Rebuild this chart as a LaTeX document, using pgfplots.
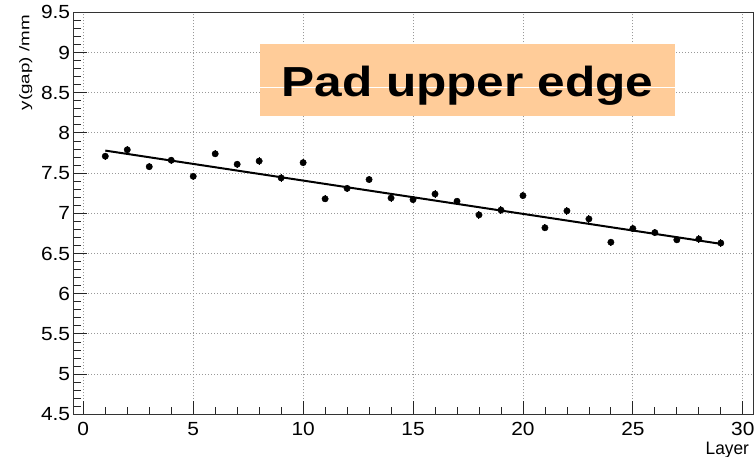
\documentclass[border=0pt]{standalone}
\usepackage{pgfplots}
\pgfplotsset{compat=1.18}
\usepackage{fontspec}
\setmainfont{Liberation Sans}
\newfontfamily\tickfont{Liberation Sans}[FakeStretch=1.1]
\newfontfamily\ylabfont{Liberation Sans}[FakeStretch=1.34]
\newfontfamily\xlabfont{Liberation Sans}[FakeStretch=0.96]
\newfontfamily\titfont{Liberation Sans}[FakeStretch=1.18]
\definecolor{titlebg}{RGB}{255,204,153}
\begin{document}
\begin{tikzpicture}
\begin{axis}[
  scale only axis,
  width=679.7pt, height=402pt,
  xmin=-0.455, xmax=30.465,
  ymin=4.5, ymax=9.5,
  clip=false,
  axis line style={black!80, line width=1pt},
  xtick={0,5,...,30},
  ytick={4.5,5,...,9.5},
  minor x tick num=4,
  minor y tick num=4,
  tick pos=left,
  tick align=inside,
  major tick length=13.5pt,
  minor tick length=7.5pt,
  every tick/.style={black!85, line width=0.8pt},
  xmajorgrids, ymajorgrids,
  major grid style={black!40, line width=0.8pt, dash pattern=on 1pt off 2pt},
  /pgf/number format/assume math mode=true,
  ticklabel style={font=\tickfont\fontsize{19}{21}\selectfont},
  xticklabel style={anchor=north, inner sep=0pt, yshift=-7.7pt},
  yticklabel style={anchor=east, inner sep=0pt, xshift=-3pt},
]
\addplot[only marks, mark=*, mark size=3.2pt, black,
  error bars/.cd, y dir=both, y explicit,
  error bar style={line width=1pt, black}, error mark=none]
  table[x=x, y=y, y error=e] {
x y e
1 7.71 0.045
2 7.79 0.045
3 7.58 0.045
4 7.66 0.045
5 7.46 0.045
6 7.74 0.045
7 7.61 0.045
8 7.65 0.045
9 7.44 0.045
10 7.63 0.045
11 7.18 0.045
12 7.31 0.045
13 7.42 0.045
14 7.19 0.045
15 7.17 0.045
16 7.24 0.045
17 7.15 0.045
18 6.98 0.045
19 7.04 0.045
20 7.22 0.045
21 6.82 0.045
22 7.03 0.045
23 6.93 0.045
24 6.64 0.045
25 6.81 0.045
26 6.76 0.045
27 6.67 0.045
28 6.68 0.045
29 6.63 0.045
};
\addplot[black, line width=2pt, mark=none] coordinates {(1,7.78) (29,6.62)};
\fill[titlebg] (axis cs:8.04,8.21) rectangle (axis cs:26.92,9.106);
\draw[white, line width=0.8pt] (axis cs:8.04,8.56) -- (axis cs:26.92,8.56);
\node[anchor=base, inner sep=0pt, font=\titfont\bfseries\fontsize{42}{46}\selectfont] at (axis cs:17.47,8.45) {Pad upper edge};
\node[rotate=90, anchor=base east, inner sep=0pt, font=\ylabfont\fontsize{14}{16}\selectfont] at (axis cs:-2.457,9.466) {y(gap) /mm};
\node[anchor=base east, inner sep=0pt, font=\xlabfont\fontsize{18}{20}\selectfont] at (axis cs:30.287,4.006) {Layer};
\coordinate (bl) at (rel axis cs:0,0);
\coordinate (tr) at (rel axis cs:1,1);
\end{axis}
\pgfresetboundingbox
\path[use as bounding box] ([shift={(-73.3pt,-42.7pt)}]bl) rectangle ([shift={(1pt,12.3pt)}]tr);
\end{tikzpicture}
\end{document}
